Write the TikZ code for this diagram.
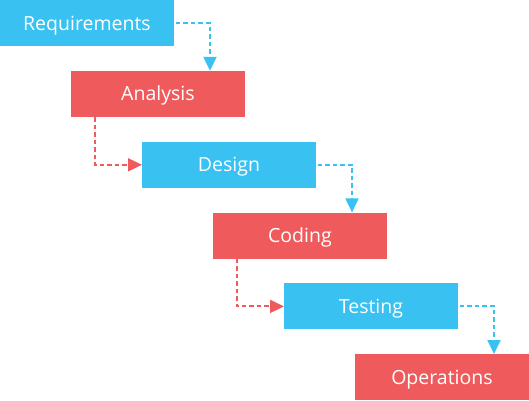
\documentclass[tikz,border=0pt]{standalone}
\usepackage{fontspec}
\setmainfont{Open Sans}
\usetikzlibrary{arrows.meta}
\definecolor{sblue}{HTML}{38C1F1}
\definecolor{sred}{HTML}{EF5B5C}
\begin{document}
\begin{tikzpicture}[x=1pt,y=-1pt,
  stagebox/.style={anchor=north west,minimum width=173.5pt,minimum height=46pt,inner sep=0pt,text=white,text height=13.9pt,text depth=0pt,font=\fontsize{19.5}{22}\selectfont},
  bluebox/.style={stagebox,fill=sblue},
  redbox/.style={stagebox,fill=sred},
  flow/.style={line width=1.9pt,dash pattern=on 4.5pt off 3pt,-{Triangle[width=13pt,length=14pt]}},
  blueflow/.style={flow,draw=sblue},
  redflow/.style={flow,draw=sred}]
\useasboundingbox (0,0) rectangle (529,400);
\node[bluebox] (req) at (0,0) {Requirements};
\node[redbox] (ana) at (71,70.8) {Analysis};
\node[bluebox] (des) at (142,141.6) {Design};
\node[redbox] (cod) at (213,212.4) {Coding};
\node[bluebox] (tes) at (284,283.2) {Testing};
\node[redbox] (ops) at (355,354) {Operations};
\draw[blueflow] ([xshift=2pt]req.east) -| ([xshift=139pt]ana.north west);
\draw[redflow] ([xshift=24pt]ana.south west) |- (des.west);
\draw[blueflow] ([xshift=2pt]des.east) -| ([xshift=139pt]cod.north west);
\draw[redflow] ([xshift=24pt]cod.south west) |- (tes.west);
\draw[blueflow] ([xshift=2pt]tes.east) -| ([xshift=139pt]ops.north west);
\end{tikzpicture}
\end{document}
